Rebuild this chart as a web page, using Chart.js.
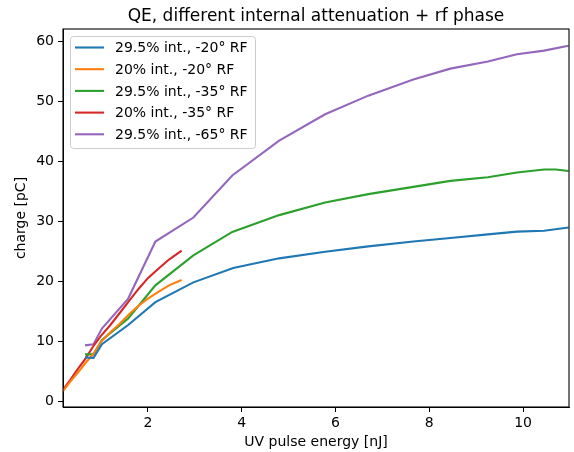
<!DOCTYPE html>
<html>
<head>
<meta charset="utf-8">
<script src="https://cdn.jsdelivr.net/npm/chart.js@4/dist/chart.umd.min.js"></script>
<style>
  html, body { margin: 0; padding: 0; background: #fff; }
  #wrap { width: 574px; height: 452px; }
</style>
</head>
<body>
<div id="wrap"><canvas id="myChart" width="574" height="452"></canvas></div>
<script>
"use strict";

// series names and colours
var seriesNames = [
  "29.5% int., -20° RF",
  "20% int., -20° RF",
  "29.5% int., -35° RF",
  "20% int., -35° RF",
  "29.5% int., -65° RF",
];
var seriesColors = ["#1f77b4", "#ff7f0e", "#2ca02c", "#d62728", "#9467bd"];

// pulse energy [nJ] and charge [pC]
var blueX = [0.66, 0.84, 1.02, 1.58, 2.16, 2.97, 3.82, 4.8, 5.78, 6.7, 7.66, 8.45, 9.25, 9.87, 10.45, 10.97];
var blueY = [7.4, 7.3, 9.6, 12.8, 16.6, 19.9, 22.3, 23.9, 25.0, 25.9, 26.7, 27.3, 27.9, 28.35, 28.5, 29.05];

var orangeX = [0.19, 0.35, 0.5, 0.65, 0.84, 1.0, 1.2, 1.4, 1.6, 1.8, 2.0, 2.2, 2.45, 2.72];
var orangeY = [1.8, 3.4, 4.8, 6.3, 8.0, 10.0, 11.6, 13.0, 14.6, 16.0, 17.2, 18.2, 19.4, 20.3];

var greenX = [0.66, 0.84, 1.02, 1.58, 2.16, 2.97, 3.8, 4.8, 5.78, 6.7, 7.66, 8.45, 9.25, 9.87, 10.45, 10.7, 10.97];
var greenY = [7.9, 7.9, 10.3, 13.9, 19.4, 24.4, 28.3, 31.1, 33.2, 34.6, 35.8, 36.8, 37.4, 38.2, 38.7, 38.7, 38.45];

var redX = [0.19, 0.35, 0.5, 0.65, 0.84, 1.0, 1.2, 1.4, 1.6, 1.8, 2.0, 2.2, 2.45, 2.72];
var redY = [2.0, 3.7, 5.4, 7.0, 9.3, 11.0, 12.8, 14.8, 16.8, 18.8, 20.6, 22.0, 23.7, 25.2];

var purpleX = [0.66, 0.84, 1.02, 1.58, 2.16, 2.97, 3.8, 4.8, 5.78, 6.7, 7.66, 8.45, 9.25, 9.87, 10.45, 10.97];
var purpleY = [9.4, 9.6, 12.2, 17.2, 26.7, 30.7, 37.7, 43.5, 47.9, 51.0, 53.7, 55.5, 56.7, 57.9, 58.5, 59.3];

var xTicks = [2, 4, 6, 8, 10];
var yTicks = [0, 10, 20, 30, 40, 50, 60];

var allX = [blueX, orangeX, greenX, redX, purpleX];
var allY = [blueY, orangeY, greenY, redY, purpleY];

var FONT = "'DejaVu Sans', sans-serif";

function toPoints(xs, ys) {
  return xs.map(function (x, i) { return { x: x, y: ys[i] }; });
}

var datasets = seriesNames.map(function (name, i) {
  return {
    label: name,
    data: toPoints(allX[i], allY[i]),
    borderColor: seriesColors[i],
    backgroundColor: seriesColors[i],
    borderWidth: 2.1,
    pointRadius: 0,
    showLine: true,
    tension: 0,
  };
});

// title, frame and in-axes legend, matplotlib style
var decor = {
  id: "decor",
  afterDatasetsDraw: function (chart) {
    var ctx = chart.ctx;
    var a = chart.chartArea;
    ctx.save();
    ctx.strokeStyle = "#000";
    ctx.lineWidth = 1.1;
    ctx.strokeRect(a.left, a.top, a.right - a.left, a.bottom - a.top);

    // legend box
    var bx = 70.5, by = 36.5, bw = 185, bh = 112;
    ctx.fillStyle = "rgba(255,255,255,0.8)";
    ctx.strokeStyle = "#cccccc";
    ctx.lineWidth = 1;
    ctx.beginPath();
    ctx.roundRect(bx, by, bw, bh, 3);
    ctx.fill();
    ctx.stroke();
    ctx.font = "14px " + FONT;
    ctx.textBaseline = "middle";
    ctx.textAlign = "left";
    chart.data.datasets.forEach(function (ds, i) {
      var y = 47.5 + i * 21.7;
      ctx.strokeStyle = ds.borderColor;
      ctx.lineWidth = 2.1;
      ctx.beginPath();
      ctx.moveTo(75, y);
      ctx.lineTo(104, y);
      ctx.stroke();
      ctx.fillStyle = "#000";
      ctx.fillText(ds.label, 115, y + 1);
    });

    ctx.font = "17px " + FONT;
    ctx.textAlign = "center";
    ctx.textBaseline = "alphabetic";
    ctx.fillStyle = "#000";
    ctx.fillText("QE, different internal attenuation + rf phase", (a.left + a.right) / 2, 21);
    ctx.restore();
  },
};

new Chart(document.getElementById("myChart"), {
  type: "scatter",
  data: { datasets: datasets },
  options: {
    responsive: false,
    animation: false,
    layout: { padding: { top: 29, right: 5, left: 0, bottom: 0 } },
    plugins: {
      legend: { display: false },
      tooltip: { enabled: false },
    },
    scales: {
      x: {
        type: "linear",
        min: 0.19,
        max: 10.98,
        border: { display: true, color: "#000", width: 1 },
        grid: { display: true, drawOnChartArea: false, drawTicks: true, tickLength: 5, color: "#000" },
        ticks: { color: "#000", font: { family: FONT, size: 14 }, padding: 3, maxRotation: 0 },
        afterBuildTicks: function (scale) {
          scale.ticks = xTicks.map(function (v) { return { value: v }; });
        },
        afterFit: function (scale) { scale.height = 45; },
        title: {
          display: true,
          text: "UV pulse energy [nJ]",
          color: "#000",
          font: { family: FONT, size: 14 },
          padding: { top: 0, bottom: 1 },
        },
      },
      y: {
        type: "linear",
        min: -0.86,
        max: 62.1,
        border: { display: true, color: "#000", width: 1 },
        grid: { display: true, drawOnChartArea: false, drawTicks: true, tickLength: 5, color: "#000" },
        ticks: { color: "#000", font: { family: FONT, size: 14 }, padding: 4 },
        afterBuildTicks: function (scale) {
          scale.ticks = yTicks.map(function (v) { return { value: v }; });
        },
        afterFit: function (scale) { scale.width = 63; },
        title: {
          display: true,
          text: "charge [pC]",
          color: "#000",
          font: { family: FONT, size: 14 },
          padding: { top: 13, bottom: 0 },
        },
      },
    },
  },
  plugins: [decor],
});
</script>
</body>
</html>
